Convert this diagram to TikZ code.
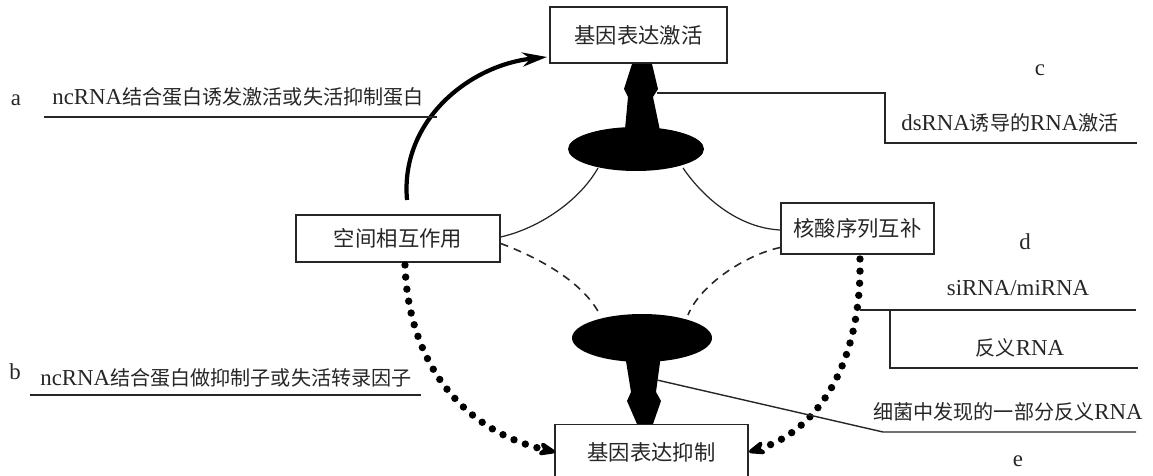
\documentclass[tikz,border=0pt]{standalone}
\usepackage{fontspec}
\setmainfont{Liberation Serif}
\newfontfamily\cjk[Scale=0.88]{Noto Sans CJK SC}
\usetikzlibrary{shapes.geometric,arrows.meta}
\newcommand\zhtxt[1]{{\cjk #1}}
\definecolor{ink}{HTML}{262626}
\begin{document}
\begin{tikzpicture}[x=0.02cm,y=-0.02cm,
  box/.style={draw=ink, line width=0.8pt, fill=white, inner sep=0pt, text=ink,
              font=\fontsize{13.8}{16}\selectfont},
  lbl/.style={inner sep=0pt, text=ink, font=\fontsize{13}{15}\selectfont},
  blob/.style={ellipse, fill=black, inner sep=0pt},
  thinline/.style={draw=ink, line width=0.7pt},
  dashline/.style={draw=ink, line width=0.9pt, dash pattern=on 4.5pt off 3.5pt},
  dotline/.style={draw=black, line width=4.2pt, line cap=round, dash pattern=on 0pt off 6.9pt},
  dottip/.style={-{Stealth[length=13pt,width=10pt,inset=4pt,round=false]}},
  thickarc/.style={draw=black, line width=2.4pt},
  leader/.style={draw=ink, line width=0.8pt}
]
\useasboundingbox (0,0) rectangle (1153,476);

% boxes
\node[box, minimum width=3.54cm, minimum height=1.12cm] (act) at (638.5,35) {\zhtxt{基因表达激活}};
\node[box, minimum width=4.08cm, minimum height=0.94cm] (sp) at (398,238.5) {\zhtxt{空间相互作用}};
\node[box, minimum width=3.06cm, minimum height=1.02cm] (nc) at (857.5,228.5) {\zhtxt{核酸序列互补}};
\node[box, minimum width=3.86cm, minimum height=1.1cm, anchor=north] (rep) at (651.5,424) {\zhtxt{基因表达抑制}};

% black blobs
\node[blob, minimum width=2.72cm, minimum height=0.88cm] (e1) at (636,149) {};
\node[blob, minimum width=2.80cm, minimum height=0.96cm] (e2) at (642,338) {};
\fill[black] (624,140) -- (628,97) -- (624,89) -- (632,64) -- (652,64) -- (658,89) -- (653,97) -- (662,140) -- cycle;
\fill[black] (625,355) -- (631,392) -- (627,401) -- (637,424) -- (653,424) -- (661,401) -- (656,392) -- (661,355) -- cycle;

% coordinates on the blobs and boxes
\coordinate (e1l) at (598,168);
\coordinate (e1r) at (683,168);
\coordinate (e2l) at (600,315);
\coordinate (e2r) at (688,315);
\coordinate (spS) at ([yshift=0.03cm]sp.east);
\coordinate (spD) at ([yshift=-0.1cm]sp.east);
\coordinate (ncS) at ([yshift=-0.03cm]nc.west);
\coordinate (ncD) at ([yshift=-0.38cm]nc.west);
\coordinate (spTop) at (407,200);
\coordinate (spBot) at (405,265);
\coordinate (ncBot) at (860,259);
\coordinate (actIn) at (547,57);
\coordinate (repL) at (555,452);
\coordinate (repR) at (749,452);

% thin solid curves
\draw[thinline] (spS) .. controls (540,228) and (580,200) .. (e1l);
\draw[thinline] (e1r) .. controls (705,200) and (740,228) .. (ncS);
% dashed curves
\draw[dashline] (spD) .. controls (545,260) and (585,285) .. (e2l);
\draw[dashline] (ncD) .. controls (745,255) and (700,285) .. (e2r);

% thick arc to activation
\draw[thickarc, -{Stealth[length=14pt,width=8pt]}] (spTop) .. controls (400,120) and (470,65) .. (actIn);

% dotted curves to repression
\draw[dotline, dottip] (spBot) .. controls (408,360) and (460,430) .. (repL);
\draw[dotline, dottip] (ncBot) .. controls (862,360) and (820,430) .. (repR);

% labels and leader lines
\node[lbl] (la) at (16,100) {a};
\node[lbl] (ta) at (238,97) {ncRNA\zhtxt{结合蛋白诱发激活或失活抑制蛋白}};
\coordinate (a1) at (44,117); \coordinate (a2) at (437,117);
\draw[leader] (a1) -- (a2);

\node[lbl] (lb) at (15,372) {b};
\node[lbl] (tb) at (226,378) {ncRNA\zhtxt{结合蛋白做抑制子或失活转录因子}};
\coordinate (b1) at (30,395); \coordinate (b2) at (421,395);
\draw[leader] (b1) -- (b2);

\node[lbl] (lc) at (1040,70) {c};
\node[lbl] (tc) at (1010,123) {dsRNA\zhtxt{诱导的}RNA\zhtxt{激活}};
\coordinate (c0) at (657,93); \coordinate (c1) at (885,93);
\coordinate (c2) at (885,143); \coordinate (c3) at (1137,143);
\draw[leader] (c0) -- (c1) -- (c2) -- (c3);

\node[lbl] (ld) at (1025,242) {d};
\node[lbl] (td1) at (1018,288) {siRNA/miRNA};
\node[lbl] (td2) at (1020,348) {\zhtxt{反义}RNA};
\coordinate (d0) at (860,310); \coordinate (d1) at (1136,310);
\coordinate (d2) at (890,310); \coordinate (d3) at (890,368); \coordinate (d4) at (1138,368);
\draw[leader] (d0) -- (d1);
\draw[leader] (d2) -- (d3) -- (d4);

\node[lbl] (te) at (1008,412) {\zhtxt{细菌中发现的一部分反义}RNA};
\node[lbl] (le) at (1018,461) {e};
\coordinate (e0) at (657,380); \coordinate (e3) at (883,432); \coordinate (e4) at (1136,432);
\draw[leader] (e0) -- (e3) -- (e4);
\end{tikzpicture}
\end{document}
